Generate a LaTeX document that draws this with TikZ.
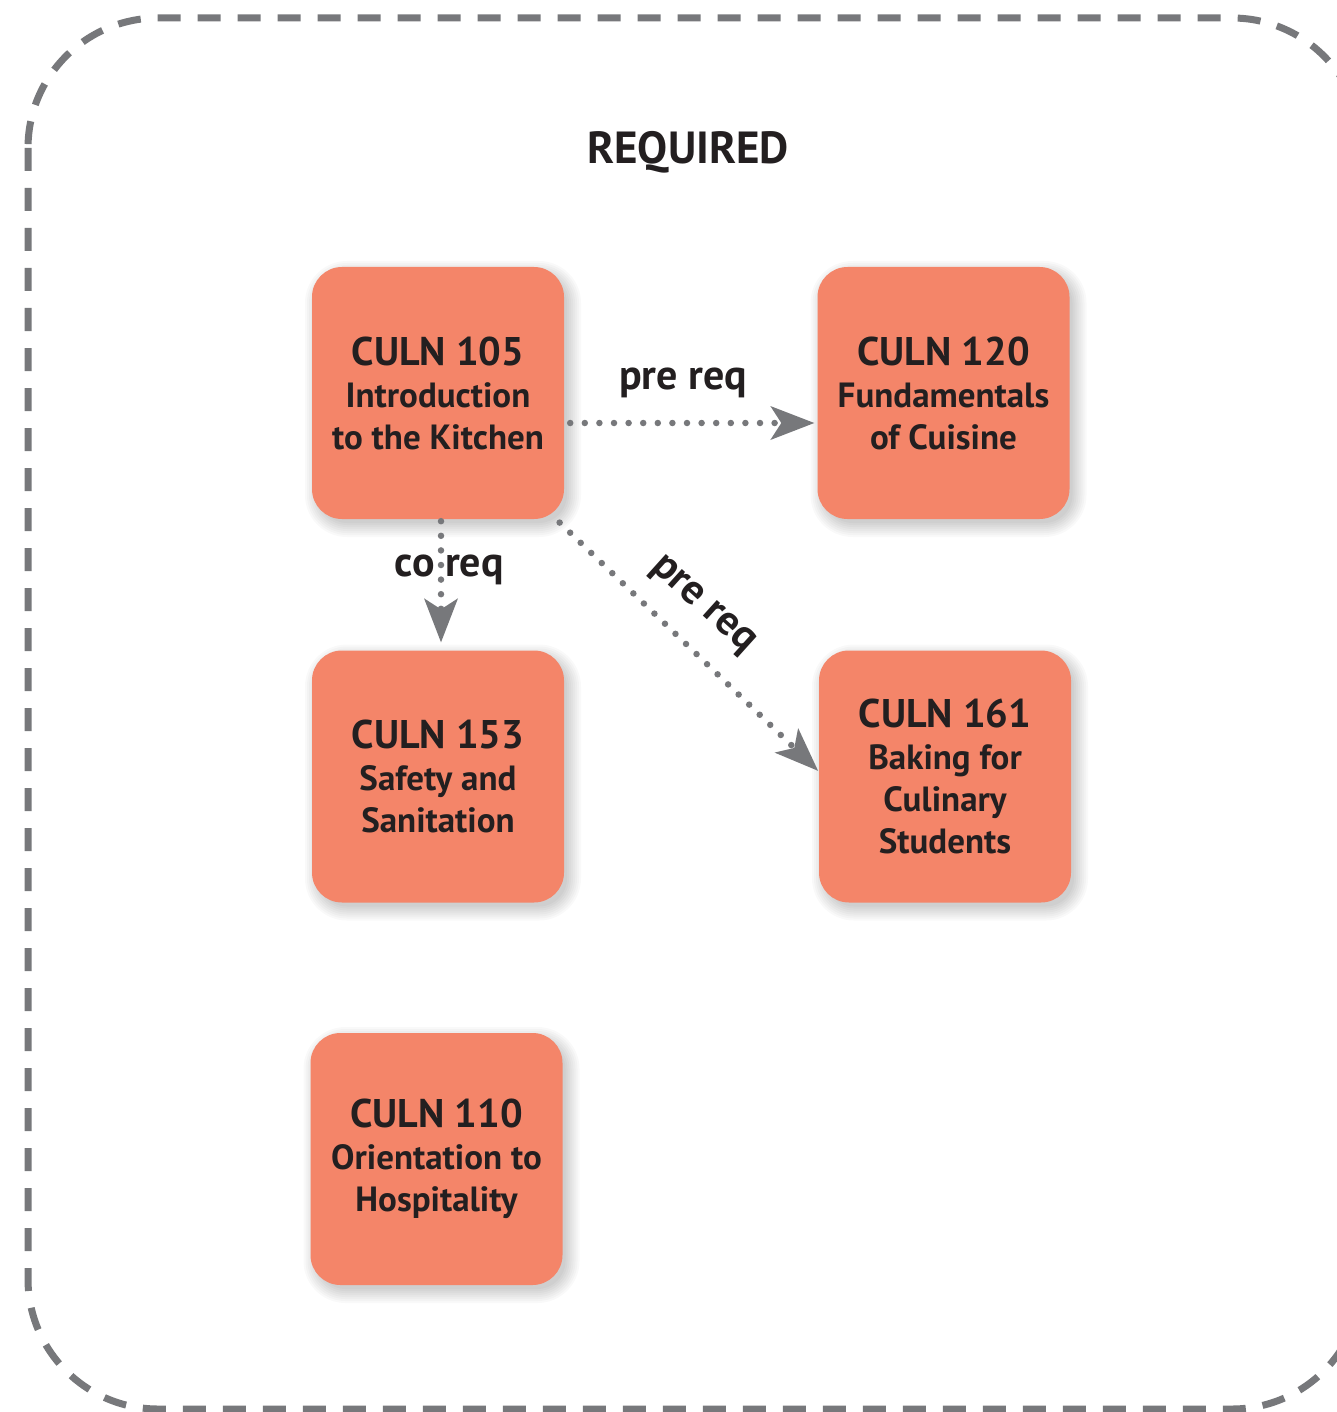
\documentclass[tikz,border=0pt]{standalone}
\usepackage{fontspec}
\setmainfont{PT Sans}
\usetikzlibrary{arrows.meta}
\definecolor{salmon}{RGB}{244,133,105}
\definecolor{linegray}{RGB}{119,120,123}
\definecolor{ink}{RGB}{35,31,32}
\tikzset{
  course/.style={rectangle, rounded corners=30pt, minimum width=252pt, minimum height=252pt,
    fill=salmon, draw=none, align=center, text=ink, inner sep=0pt,
    font=\bfseries\fontsize{35}{42}\selectfont},
  shadowlayer/.style={fill=black, opacity=0.024},
  dotarrow/.style={draw=linegray, line width=6.5pt, line cap=round, dash pattern=on 0pt off 14.6pt,
    -{Stealth[length=44pt, width=34pt, inset=11pt, fill=linegray, line width=0pt]}},
  lbl/.style={font=\bfseries\fontsize{42}{46}\selectfont, text=ink, inner sep=0pt},
  ttl/.style={font=\bfseries\fontsize{45}{48}\selectfont, text=ink}
}
\newcommand{\ctitle}[1]{{\fontsize{40}{42}\selectfont #1}}
\begin{document}
\begin{tikzpicture}[x=1pt,y=-1pt]
\useasboundingbox (0,0) rectangle (1336,1412);
\fill[white] (0,0) rectangle (1336,1412);
\draw[linegray, line width=7pt, dash pattern=on 23pt off 17pt, rounded corners=130pt] (28,18) rectangle (1362,1409);
% soft shadows
\foreach \cx/\cy in {438/393, 943.5/393, 438/776.5, 945/776.5, 436.5/1159}{
  \foreach \e in {-2,0,...,12}{
    \fill[shadowlayer, rounded corners={(30+\e)*1pt}] ({\cx-121-\e},{\cy-120-\e}) rectangle ({\cx+131+\e},{\cy+132+\e});
  }
}
\node[ttl] (title) at (688,152) {REQUIRED};
\node[course] (c105) at (438,393) {\ctitle{CULN 105}\\Introduction\\to the Kitchen};
\node[course] (c120) at (943.5,393) {\ctitle{CULN 120}\\Fundamentals\\of Cuisine};
\node[course] (c153) at (438,776.5) {\ctitle{CULN 153}\\Safety and\\Sanitation};
\node[course] (c161) at (945,776.5) {\ctitle{CULN 161}\\Baking for\\Culinary\\Students};
\node[course] (c110) at (436.5,1159) {\ctitle{CULN 110}\\Orientation to\\Hospitality};
\draw[dotarrow, shorten <=6pt, shorten >=3pt] ([yshift=-30pt]c105.east) -- ([yshift=-30pt]c120.west);
\draw[dotarrow, shorten <=2pt, shorten >=8pt] ([xshift=3pt]c105.south) -- ([xshift=3pt]c153.north);
\draw[dotarrow, shorten <=2pt, shorten >=1pt] ([xshift=-6pt,yshift=-2pt]c105.south east) -- ([yshift=5pt]c161.west);
\node[lbl] (l1) at (683,383) {pre req};
\node[lbl] (l2) at (449,570) {co req};
\node[lbl, rotate=-42] (l3) at (702,606) {pre req};
\end{tikzpicture}
\end{document}
